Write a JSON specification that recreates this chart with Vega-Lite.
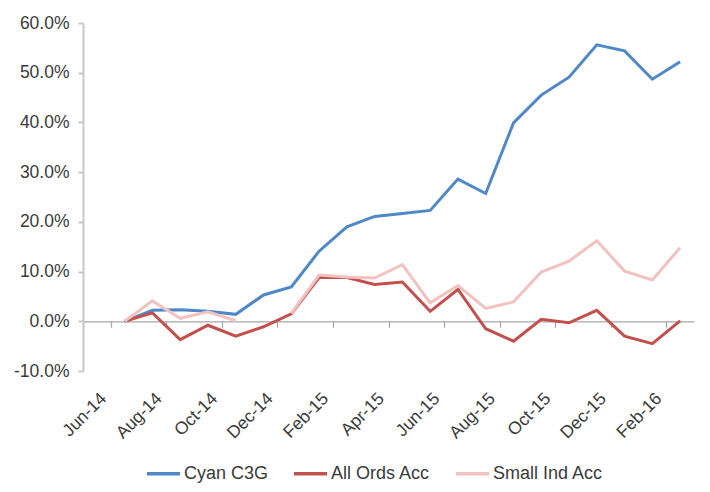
{
  "$schema": "https://vega.github.io/schema/vega-lite/v6.json",
  "width": 611,
  "height": 348,
  "autosize": {"type": "none"},
  "padding": {"left": 83, "top": 23, "right": 16, "bottom": 121},
  "background": "white",
  "config": {
    "font": "Liberation Sans",
    "view": {"stroke": null}
  },
  "data": {
    "values": [
      {"month": "Jul-14", "series": "Cyan C3G", "value": 0},
      {"month": "Aug-14", "series": "Cyan C3G", "value": 0.022},
      {"month": "Sep-14", "series": "Cyan C3G", "value": 0.023},
      {"month": "Oct-14", "series": "Cyan C3G", "value": 0.020},
      {"month": "Nov-14", "series": "Cyan C3G", "value": 0.014},
      {"month": "Dec-14", "series": "Cyan C3G", "value": 0.053},
      {"month": "Jan-15", "series": "Cyan C3G", "value": 0.069},
      {"month": "Feb-15", "series": "Cyan C3G", "value": 0.141},
      {"month": "Mar-15", "series": "Cyan C3G", "value": 0.190},
      {"month": "Apr-15", "series": "Cyan C3G", "value": 0.211},
      {"month": "May-15", "series": "Cyan C3G", "value": 0.217},
      {"month": "Jun-15", "series": "Cyan C3G", "value": 0.223},
      {"month": "Jul-15", "series": "Cyan C3G", "value": 0.286},
      {"month": "Aug-15", "series": "Cyan C3G", "value": 0.257},
      {"month": "Sep-15", "series": "Cyan C3G", "value": 0.399},
      {"month": "Oct-15", "series": "Cyan C3G", "value": 0.455},
      {"month": "Nov-15", "series": "Cyan C3G", "value": 0.491},
      {"month": "Dec-15", "series": "Cyan C3G", "value": 0.556},
      {"month": "Jan-16", "series": "Cyan C3G", "value": 0.544},
      {"month": "Feb-16", "series": "Cyan C3G", "value": 0.487},
      {"month": "Mar-16", "series": "Cyan C3G", "value": 0.522},
      {"month": "Jul-14", "series": "All Ords Acc", "value": 0},
      {"month": "Aug-14", "series": "All Ords Acc", "value": 0.017},
      {"month": "Sep-14", "series": "All Ords Acc", "value": -0.037},
      {"month": "Oct-14", "series": "All Ords Acc", "value": -0.008},
      {"month": "Nov-14", "series": "All Ords Acc", "value": -0.030},
      {"month": "Dec-14", "series": "All Ords Acc", "value": -0.011},
      {"month": "Jan-15", "series": "All Ords Acc", "value": 0.015},
      {"month": "Feb-15", "series": "All Ords Acc", "value": 0.088},
      {"month": "Mar-15", "series": "All Ords Acc", "value": 0.088},
      {"month": "Apr-15", "series": "All Ords Acc", "value": 0.074},
      {"month": "May-15", "series": "All Ords Acc", "value": 0.079},
      {"month": "Jun-15", "series": "All Ords Acc", "value": 0.020},
      {"month": "Jul-15", "series": "All Ords Acc", "value": 0.064},
      {"month": "Aug-15", "series": "All Ords Acc", "value": -0.015},
      {"month": "Sep-15", "series": "All Ords Acc", "value": -0.040},
      {"month": "Oct-15", "series": "All Ords Acc", "value": 0.004},
      {"month": "Nov-15", "series": "All Ords Acc", "value": -0.003},
      {"month": "Dec-15", "series": "All Ords Acc", "value": 0.022},
      {"month": "Jan-16", "series": "All Ords Acc", "value": -0.030},
      {"month": "Feb-16", "series": "All Ords Acc", "value": -0.045},
      {"month": "Mar-16", "series": "All Ords Acc", "value": 0.001},
      {"month": "Jul-14", "series": "Small Ind Acc", "value": 0},
      {"month": "Aug-14", "series": "Small Ind Acc", "value": 0.041},
      {"month": "Sep-14", "series": "Small Ind Acc", "value": 0.006},
      {"month": "Oct-14", "series": "Small Ind Acc", "value": 0.019},
      {"month": "Nov-14", "series": "Small Ind Acc", "value": 0.001},
      {"month": "Dec-14", "series": "Small Ind Acc", "value": null},
      {"month": "Jan-15", "series": "Small Ind Acc", "value": 0.016},
      {"month": "Feb-15", "series": "Small Ind Acc", "value": 0.093},
      {"month": "Mar-15", "series": "Small Ind Acc", "value": 0.089},
      {"month": "Apr-15", "series": "Small Ind Acc", "value": 0.087},
      {"month": "May-15", "series": "Small Ind Acc", "value": 0.114},
      {"month": "Jun-15", "series": "Small Ind Acc", "value": 0.037},
      {"month": "Jul-15", "series": "Small Ind Acc", "value": 0.072},
      {"month": "Aug-15", "series": "Small Ind Acc", "value": 0.026},
      {"month": "Sep-15", "series": "Small Ind Acc", "value": 0.039},
      {"month": "Oct-15", "series": "Small Ind Acc", "value": 0.099},
      {"month": "Nov-15", "series": "Small Ind Acc", "value": 0.121},
      {"month": "Dec-15", "series": "Small Ind Acc", "value": 0.162},
      {"month": "Jan-16", "series": "Small Ind Acc", "value": 0.101},
      {"month": "Feb-16", "series": "Small Ind Acc", "value": 0.083},
      {"month": "Mar-16", "series": "Small Ind Acc", "value": 0.148}
    ]
  },
  "mark": {"type": "line", "strokeWidth": 3, "invalid": "break-paths-show-domains"},
  "encoding": {
    "x": {
      "field": "month",
      "type": "ordinal",
      "sort": null,
      "scale": {
        "type": "band",
        "paddingInner": 0,
        "paddingOuter": 0,
        "domain": ["Jun-14","Jul-14","Aug-14","Sep-14","Oct-14","Nov-14","Dec-14","Jan-15","Feb-15","Mar-15","Apr-15","May-15","Jun-15","Jul-15","Aug-15","Sep-15","Oct-15","Nov-15","Dec-15","Jan-16","Feb-16","Mar-16"]
      },
      "axis": {
        "title": null,
        "values": ["Jun-14","Aug-14","Oct-14","Dec-14","Feb-15","Apr-15","Jun-15","Aug-15","Oct-15","Dec-15","Feb-16"],
        "tickBand": "extent",
        "offset": -49.7,
        "labelPadding": 62,
        "labelAngle": -45,
        "labelFontSize": 17.5,
        "labelColor": "#3a3a3a",
        "domainColor": "#a6a6a6",
        "domainWidth": 1.2,
        "tickColor": "#a6a6a6",
        "tickSize": 6,
        "tickWidth": 1.2,
        "grid": false
      }
    },
    "y": {
      "field": "value",
      "type": "quantitative",
      "scale": {"domain": [-0.1, 0.6], "nice": false, "zero": false},
      "axis": {
        "title": null,
        "values": [-0.1, 0, 0.1, 0.2, 0.3, 0.4, 0.5, 0.6],
        "labelExpr": "replace(format(datum.value, '.1%'), '\u2212', '-')",
        "labelFontSize": 17.5,
        "labelColor": "#3a3a3a",
        "labelPadding": 9,
        "domainColor": "#c8c8c8",
        "domainWidth": 2,
        "tickColor": "#c8c8c8",
        "tickWidth": 2,
        "tickSize": 5,
        "grid": false
      }
    },
    "color": {
      "field": "series",
      "type": "nominal",
      "scale": {
        "domain": ["Cyan C3G", "All Ords Acc", "Small Ind Acc"],
        "range": ["#4f88c8", "#c4504e", "#f2c2c1"]
      },
      "legend": {
        "title": null,
        "orient": "none",
        "direction": "horizontal",
        "legendX": 62,
        "legendY": 432,
        "symbolType": "stroke",
        "symbolSize": 1089,
        "symbolStrokeWidth": 3.5,
        "labelFontSize": 18,
        "labelColor": "#3a3a3a",
        "labelOffset": 2,
        "columnPadding": 18
      }
    }
  }
}
